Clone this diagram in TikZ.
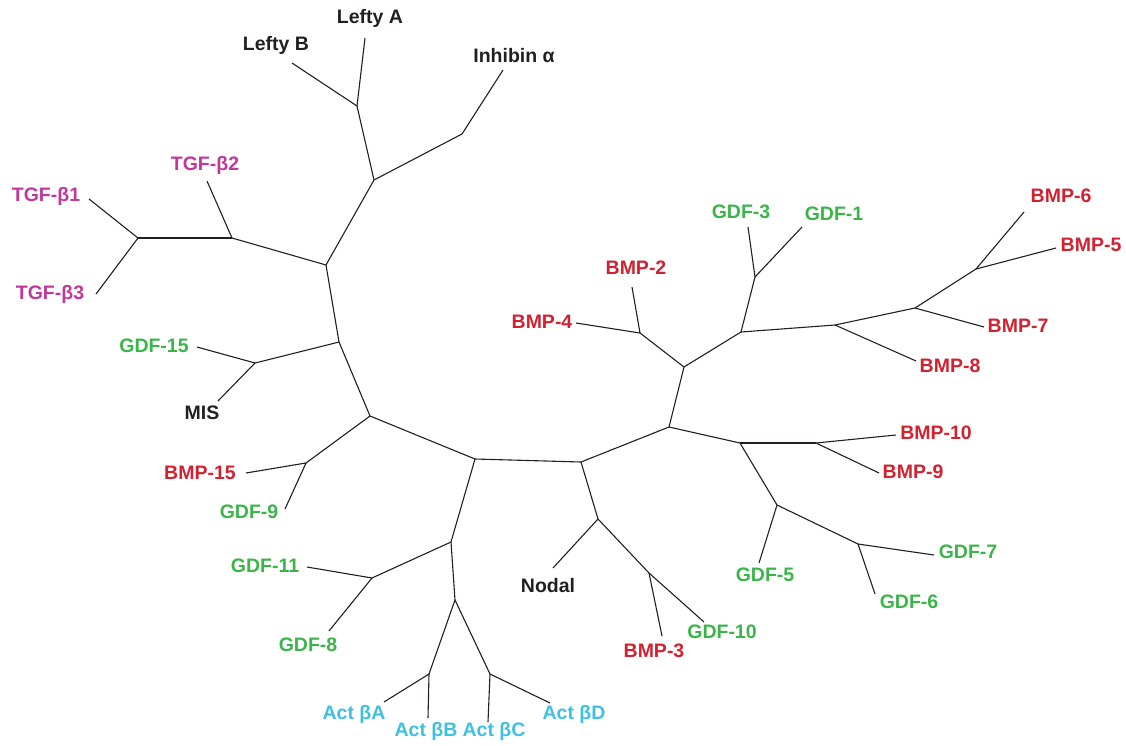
\documentclass[tikz,border=0pt]{standalone}
\usepackage{fontspec}
\setmainfont{Liberation Sans}
\definecolor{cred}{HTML}{D02230}
\definecolor{cgreen}{HTML}{3BB54A}
\definecolor{cmag}{HTML}{C0399A}
\definecolor{ccyan}{HTML}{3EC0E2}
\definecolor{cblack}{HTML}{231F20}
\begin{document}
\begin{tikzpicture}[x=1pt,y=-1pt,
  br/.style={line width=1.1pt, cblack},
  lab/.style={font=\bfseries\fontsize{19.5}{22}\selectfont, inner sep=0pt, anchor=center},
  red/.style={lab, text=cred}, grn/.style={lab, text=cgreen},
  mag/.style={lab, text=cmag}, cyn/.style={lab, text=ccyan}, blk/.style={lab, text=cblack}]
\useasboundingbox (0,0) rectangle (1126,745);
% internal nodes
\coordinate (A) at (475,459); \coordinate (B) at (581,462);
\coordinate (C) at (370,416); \coordinate (D) at (451,542);
\coordinate (E) at (339,342); \coordinate (F) at (306,463);
\coordinate (G) at (326,265); \coordinate (H) at (255,363);
\coordinate (I) at (374,180); \coordinate (J) at (232,238);
\coordinate (K) at (138,238); \coordinate (L) at (357,106);
\coordinate (M) at (462,134);
\coordinate (N) at (372,578); \coordinate (P) at (455,600);
\coordinate (Q) at (429,674); \coordinate (R) at (490,674);
\coordinate (S) at (598,519); \coordinate (T) at (649,573);
\coordinate (U) at (669,427); \coordinate (V) at (740,443);
\coordinate (W) at (816,443); \coordinate (X) at (777,505);
\coordinate (Y) at (858,544);
\coordinate (Z) at (684,367); \coordinate (Zb) at (640,333);
\coordinate (AA) at (741,332); \coordinate (AB) at (755,277);
\coordinate (BB) at (835,325); \coordinate (CC) at (915,308);
\coordinate (DD) at (976,269);
% leaf ends
\coordinate (leftyA) at (365,38); \coordinate (leftyB) at (292,63);
\coordinate (inhib) at (503,70); \coordinate (tgfbb) at (207,181);
\coordinate (tgfba) at (89,199); \coordinate (tgfbc) at (96,294);
\coordinate (gdfxv) at (197,347); \coordinate (mis) at (218,401);
\coordinate (bmpxv) at (246,473); \coordinate (gdfix) at (285,509);
\coordinate (gdfxi) at (307,567); \coordinate (gdfviii) at (329,631);
\coordinate (actA) at (384,702); \coordinate (actB) at (428,718);
\coordinate (actC) at (488,722); \coordinate (actD) at (550,703);
\coordinate (nodal) at (553,568); \coordinate (bmpiii) at (662,636);
\coordinate (gdfx) at (704,622); \coordinate (gdfv) at (759,563);
\coordinate (gdfvi) at (875,594); \coordinate (gdfvii) at (934,555);
\coordinate (bmpix) at (879,473); \coordinate (bmpx) at (896,435);
\coordinate (bmpviii) at (916,361); \coordinate (bmpvii) at (984,327);
\coordinate (bmpv) at (1056,248); \coordinate (bmpvi) at (1024,212);
\coordinate (gdfi) at (802,227); \coordinate (gdfiii) at (748,227);
\coordinate (bmpii) at (632,287); \coordinate (bmpiv) at (576,323);
% branches
\draw[br] (A) -- (B); \draw[br] (A) -- (C); \draw[br] (A) -- (D);
\draw[br] (C) -- (E); \draw[br] (C) -- (F);
\draw[br] (E) -- (G); \draw[br] (E) -- (H);
\draw[br] (G) -- (I); \draw[br] (G) -- (J);
\draw[br] (J) -- (K); \draw[br] (J) -- (tgfbb);
\draw[br] (K) -- (tgfba); \draw[br] (K) -- (tgfbc);
\draw[br] (I) -- (L); \draw[br] (I) -- (M);
\draw[br] (L) -- (leftyA); \draw[br] (L) -- (leftyB);
\draw[br] (M) -- (inhib);
\draw[br] (H) -- (gdfxv); \draw[br] (H) -- (mis);
\draw[br] (F) -- (bmpxv); \draw[br] (F) -- (gdfix);
\draw[br] (D) -- (N); \draw[br] (D) -- (P);
\draw[br] (N) -- (gdfxi); \draw[br] (N) -- (gdfviii);
\draw[br] (P) -- (Q); \draw[br] (P) -- (R);
\draw[br] (Q) -- (actA); \draw[br] (Q) -- (actB);
\draw[br] (R) -- (actC); \draw[br] (R) -- (actD);
\draw[br] (B) -- (S); \draw[br] (B) -- (U);
\draw[br] (S) -- (nodal); \draw[br] (S) -- (T);
\draw[br] (T) -- (bmpiii); \draw[br] (T) -- (gdfx);
\draw[br] (U) -- (Z); \draw[br] (U) -- (V);
\draw[br] (V) -- (W); \draw[br] (V) -- (X);
\draw[br] (W) -- (bmpx); \draw[br] (W) -- (bmpix);
\draw[br] (X) -- (gdfv); \draw[br] (X) -- (Y);
\draw[br] (Y) -- (gdfvii); \draw[br] (Y) -- (gdfvi);
\draw[br] (Z) -- (Zb); \draw[br] (Z) -- (AA);
\draw[br] (Zb) -- (bmpiv); \draw[br] (Zb) -- (bmpii);
\draw[br] (AA) -- (AB); \draw[br] (AA) -- (BB);
\draw[br] (AB) -- (gdfiii); \draw[br] (AB) -- (gdfi);
\draw[br] (BB) -- (bmpviii); \draw[br] (BB) -- (CC);
\draw[br] (CC) -- (bmpvii); \draw[br] (CC) -- (DD);
\draw[br] (DD) -- (bmpvi); \draw[br] (DD) -- (bmpv);
% labels
\node[blk] (tLeftyA) at (370,18) {Lefty A};
\node[blk] (tLeftyB) at (276,45) {Lefty B};
\node[blk] (tInhib) at (514,56) {Inhibin α};
\node[mag] (tTGFb2) at (205,165) {TGF-β2};
\node[mag] (tTGFb1) at (46,196) {TGF-β1};
\node[mag] (tTGFb3) at (50,294) {TGF-β3};
\node[grn] (tGDF3) at (741,212) {GDF-3};
\node[grn] (tGDF1) at (834,214) {GDF-1};
\node[red] (tBMP2) at (636,268) {BMP-2};
\node[red] (tBMP4) at (542,322) {BMP-4};
\node[red] (tBMP6) at (1061,196) {BMP-6};
\node[red] (tBMP5) at (1091,245) {BMP-5};
\node[red] (tBMP7) at (1018,326) {BMP-7};
\node[red] (tBMP8) at (950,366) {BMP-8};
\node[red] (tBMP10) at (936,433) {BMP-10};
\node[red] (tBMP9) at (913,472) {BMP-9};
\node[grn] (tGDF15) at (154,346) {GDF-15};
\node[blk] (tMIS) at (202,413) {MIS};
\node[red] (tBMP15) at (200,473) {BMP-15};
\node[grn] (tGDF9) at (249,512) {GDF-9};
\node[grn] (tGDF11) at (265,566) {GDF-11};
\node[grn] (tGDF8) at (308,645) {GDF-8};
\node[blk] (tNodal) at (548,586) {Nodal};
\node[red] (tBMP3) at (654,651) {BMP-3};
\node[grn] (tGDF10) at (722,632) {GDF-10};
\node[grn] (tGDF5) at (765,575) {GDF-5};
\node[grn] (tGDF7) at (968,552) {GDF-7};
\node[grn] (tGDF6) at (909,602) {GDF-6};
\node[cyn] (tActA) at (354,714) {Act βA};
\node[cyn] (tActB) at (426,731) {Act βB};
\node[cyn] (tActC) at (494,731) {Act βC};
\node[cyn] (tActD) at (574,714) {Act βD};
\end{tikzpicture}
\end{document}
